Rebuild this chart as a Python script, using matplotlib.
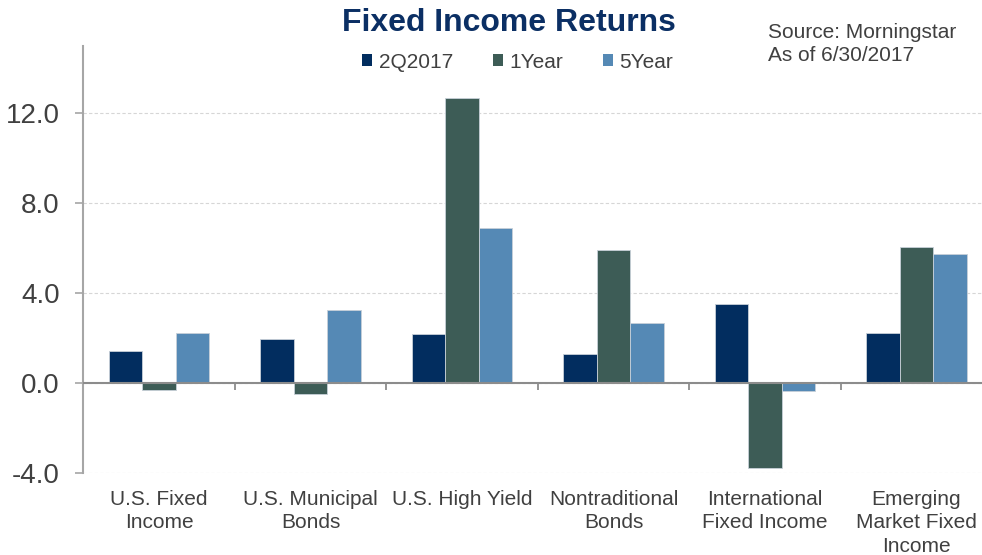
import matplotlib.pyplot as plt
import numpy as np
from matplotlib.patches import Patch

plt.rcParams['font.family'] = ['Liberation Sans', 'DejaVu Sans']
plt.rcParams['axes.unicode_minus'] = False

categories = ['U.S. Fixed\nIncome', 'U.S. Municipal\nBonds', 'U.S. High Yield',
              'Nontraditional\nBonds', 'International\nFixed Income', 'Emerging\nMarket Fixed\nIncome']
series_names = ['2Q2017', '1Year', '5Year']
q2_2017 = [1.45, 1.95, 2.18, 1.30, 3.55, 2.25]
one_year = [-0.30, -0.48, 12.69, 5.91, -3.78, 6.06]
five_year = [2.22, 3.26, 6.90, 2.69, -0.36, 5.73]
colors = ['#022D5F', '#3D5C56', '#5589B5']
yticks = [-4, 0, 4, 8, 12]

fig = plt.figure(figsize=(9.82, 5.55), dpi=100)
ax = fig.add_axes([83.3 / 982, 81.7 / 555, 909 / 982, 427.3 / 555])

x = np.arange(len(categories))
w = 0.221
for i, vals in enumerate([q2_2017, one_year, five_year]):
    ax.bar(x + (i - 1) * w, vals, w, color=colors[i], edgecolor='#c8d0d8', linewidth=0.6, zorder=3)

ax.set_xlim(-0.5, len(categories) - 0.5)
ax.set_ylim(-4, 15)
ax.set_yticks(yticks)
ax.set_yticklabels(['%.1f' % v for v in yticks])
ax.yaxis.grid(True, linestyle=(0, (3, 2)), color='#d6d6d6', linewidth=0.8, zorder=0)

# zero line with small ticks at the category boundaries
ax.axhline(0, color='#8c8c8c', linewidth=1.5, zorder=4)
bounds = np.arange(len(categories) - 1) + 0.5
ax.vlines(bounds, -0.3, 0, color='#8c8c8c', linewidth=1.3, zorder=4)

for s in ['top', 'right', 'bottom']:
    ax.spines[s].set_visible(False)
ax.spines['left'].set_color('#a6a6a6')
ax.spines['left'].set_linewidth(1.5)

ax.set_xticks(x)
ax.set_xticklabels(categories, fontsize=15, color='#404040', linespacing=1.3)
ax.tick_params(axis='x', length=0, pad=12)
ax.tick_params(axis='y', length=6, width=1.2, color='#a6a6a6', labelsize=20, labelcolor='#404040', pad=11)

fig.text(0.518, 0.958, 'Fixed Income Returns', ha='center', va='center',
         fontsize=23, fontweight='bold', color='#0B2F64')
fig.text(768 / 982, 1 - 44 / 555, 'Source: Morningstar\nAs of 6/30/2017', ha='left', va='center',
         fontsize=15, color='#404040', linespacing=1.3)

handles = [Patch(facecolor=c, edgecolor='none') for c in colors]
fig.legend(handles, series_names, loc='center', bbox_to_anchor=(0.527, 0.888), ncol=3,
           frameon=False, fontsize=15, handlelength=0.5, handleheight=0.5,
           handletextpad=0.3, columnspacing=1.9, labelcolor='#404040')

fig.savefig('out.png', dpi=100)
